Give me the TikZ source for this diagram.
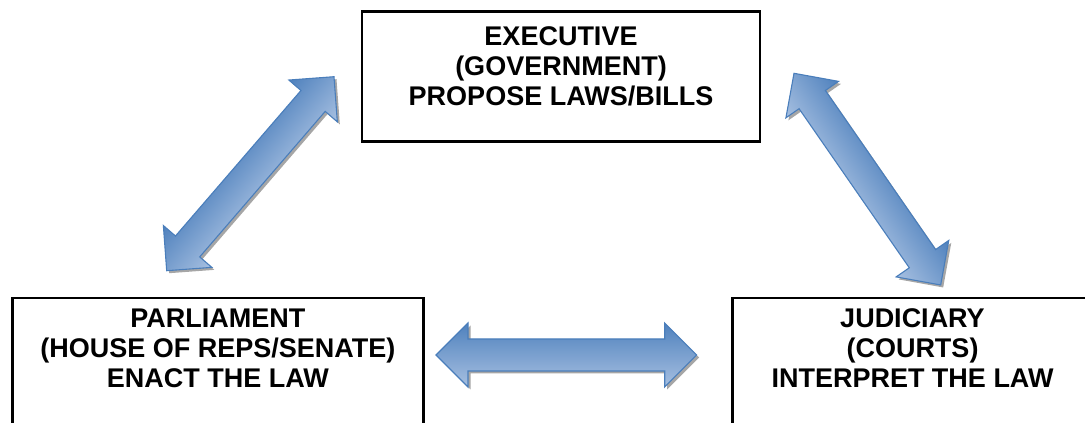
\documentclass[tikz,border=0pt]{standalone}
\usepackage{fontspec}
\setmainfont{Liberation Sans}
\usetikzlibrary{positioning,calc}

\definecolor{arrowdark}{RGB}{79,129,189}
\definecolor{arrowlight}{RGB}{167,192,225}
\definecolor{arrowline}{RGB}{74,126,187}

% block arrow with a head at both ends, drawn along the x axis
\newcommand{\arrowshape}{(0,0) -- (32,32) -- (32,16) -- (\arrlen-32,16)
  -- (\arrlen-32,32) -- (\arrlen,0) -- (\arrlen-32,-32) -- (\arrlen-32,-16)
  -- (32,-16) -- (32,-32) -- cycle}

\newcommand{\blockarrow}[2]{%
  \path let \p1=($(#2)-(#1)$), \n1={atan2(\y1,\x1)}, \n2={veclen(\x1,\y1)} in
    \pgfextra{\xdef\arrang{\n1}\xdef\arrlen{\n2}};
  \begin{scope}[transform canvas={shift={($(#1)+(2.5,-2.5)$)}, rotate=\arrang}]
    \fill[arrowshadow] \arrowshape;
  \end{scope}
  \begin{scope}[transform canvas={shift={(#1)}, rotate=\arrang}]
    \draw[arrowbody] \arrowshape;
  \end{scope}
}

\begin{document}
\begin{tikzpicture}[x=1pt,y=1pt,
    branch/.style={draw,line width=2.8pt,minimum height=130pt,inner sep=0pt},
    branchtext/.style={inner sep=0pt,align=center,
      font=\fontsize{27}{30}\selectfont\bfseries},
    arrowbody/.style={draw=arrowline,line width=1.1pt,
      top color=arrowdark,bottom color=arrowlight},
    arrowshadow/.style={fill=black!35}]

  \clip (0,0) rectangle (1085,423);

  \node[branch,minimum width=398pt] (exec) at (561,346.6) {};
  \node[branch,minimum width=411pt] (parl) at (217.8,60) {};
  \node[branch,minimum width=360pt] (jud)  at (912.5,60) {};

  \node[branchtext,below=16pt of exec.north] (exectext)
    {EXECUTIVE\\(GOVERNMENT)\\PROPOSE LAWS/BILLS};
  \node[branchtext,below=12pt of parl.north] (parltext)
    {PARLIAMENT\\(HOUSE OF REPS/SENATE)\\ENACT THE LAW};
  \node[branchtext,below=12pt of jud.north] (judtext)
    {JUDICIARY\\(COURTS)\\INTERPRET THE LAW};

  % arrow ends
  \coordinate (pl) at (166.7,152.3);
  \coordinate (ex1) at (334,346.3);
  \coordinate (ex2) at (794,349.7);
  \coordinate (ju) at (940.7,138);
  \coordinate (mid1) at (436,68);
  \coordinate (mid2) at (696.7,68);

  \blockarrow{pl}{ex1}
  \blockarrow{ex2}{ju}
  \blockarrow{mid1}{mid2}
\end{tikzpicture}
\end{document}
